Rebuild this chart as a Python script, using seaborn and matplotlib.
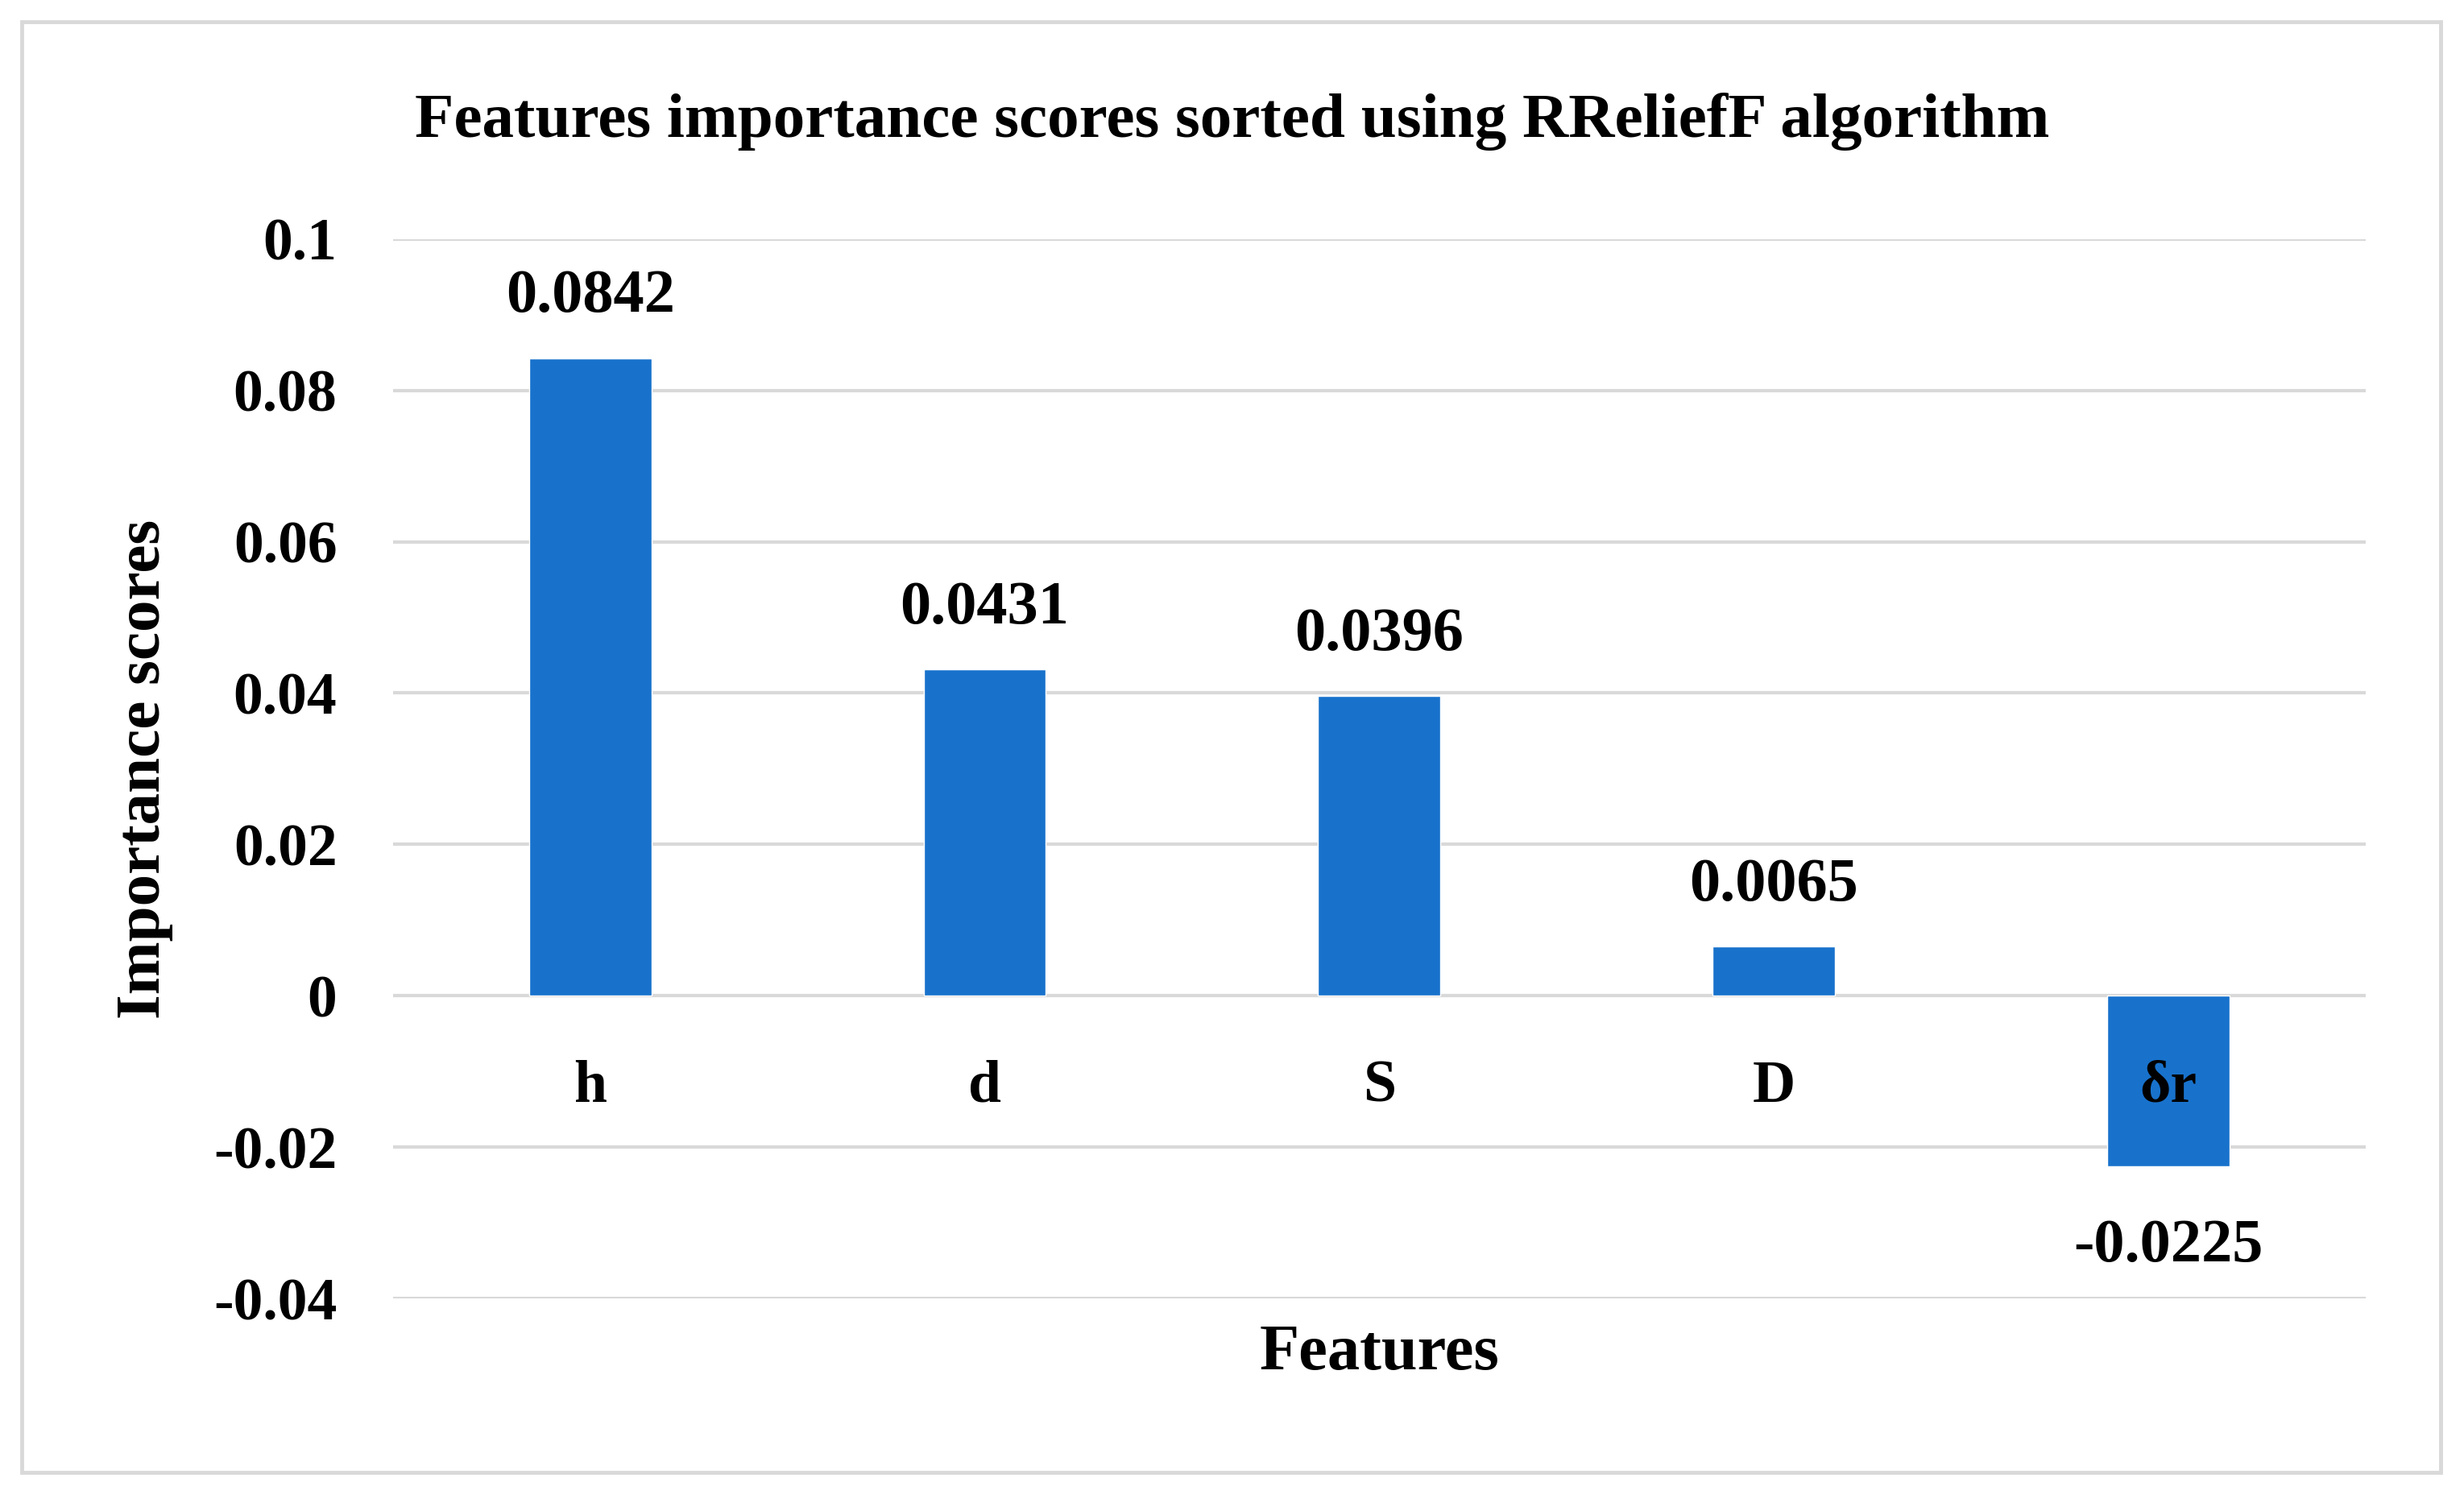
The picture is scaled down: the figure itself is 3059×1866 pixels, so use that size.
import matplotlib
matplotlib.use("Agg")
import matplotlib.pyplot as plt
import seaborn as sns
import pandas as pd
from matplotlib.patches import Rectangle

features = ["h", "d", "S", "D", "δr"]
scores = [0.0842, 0.0431, 0.0396, 0.0065, -0.0225]
score_labels = ["0.0842", "0.0431", "0.0396", "0.0065", "-0.0225"]
yticks = [-0.04, -0.02, 0, 0.02, 0.04, 0.06, 0.08, 0.1]
ytick_labels = ["-0.04", "-0.02", "0", "0.02", "0.04", "0.06", "0.08", "0.1"]

sns.set_style("white")
plt.rcParams["font.family"] = ["Liberation Serif", "DejaVu Serif"]
plt.rcParams["text.color"] = "black"
plt.rcParams["axes.labelcolor"] = "black"
plt.rcParams["xtick.color"] = "black"
plt.rcParams["ytick.color"] = "black"

bar_color = "#1872CC"
grid_color = "#D9D9D9"
fs = 53

df = pd.DataFrame({"feature": features, "score": scores})

fig = plt.figure(figsize=(30.59, 18.66), dpi=100)
ax = fig.add_axes([0.1595, 0.136, 0.8005, 0.705])

sns.barplot(data=df, x="feature", y="score", color=bar_color, width=0.31,
            saturation=1, ax=ax, zorder=3)

ax.set_ylim(-0.04, 0.1)
ax.set_xlim(-0.5, len(features) - 0.5)
ax.set_yticks(yticks)
ax.set_yticklabels(ytick_labels, fontweight="bold")
ax.yaxis.grid(True, color=grid_color, linewidth=3)
ax.set_axisbelow(True)
# category labels sit on top of the bars (the δr label is drawn over its bar)
ax.xaxis.set_zorder(5)

for s in ["top", "right", "left"]:
    ax.spines[s].set_visible(False)
ax.spines["bottom"].set_position(("data", 0))
ax.spines["bottom"].set_visible(False)

ax.tick_params(axis="y", length=0, pad=50, labelsize=fs)
ax.tick_params(axis="x", length=0, pad=57, labelsize=fs)
for lbl in ax.get_xticklabels():
    lbl.set_fontweight("bold")

bars = ax.containers[0]
pos_labels = [t if v >= 0 else "" for t, v in zip(score_labels, scores)]
neg_labels = [t if v < 0 else "" for t, v in zip(score_labels, scores)]
ax.bar_label(bars, labels=pos_labels, padding=30, fontsize=fs + 2, fontweight="bold")
ax.bar_label(bars, labels=neg_labels, padding=47, fontsize=fs + 2, fontweight="bold")

ax.set_xlabel("")
ax.set_ylabel("Importance scores", fontsize=57, fontweight="bold", labelpad=36)
ax.text(0.5, -0.052, "Features", transform=ax.transAxes, ha="center", va="center",
        fontsize=58, fontweight="bold")

fig.text(0.5, 0.919, "Features importance scores sorted using RReliefF algorithm",
         ha="center", va="center", fontsize=57, fontweight="bold")

fig.patches.append(Rectangle((0.0088, 0.0204), 0.9817, 0.9651, transform=fig.transFigure,
                             fill=False, edgecolor=grid_color, linewidth=3.5))

fig.savefig("out.png", dpi=100, facecolor="white")
